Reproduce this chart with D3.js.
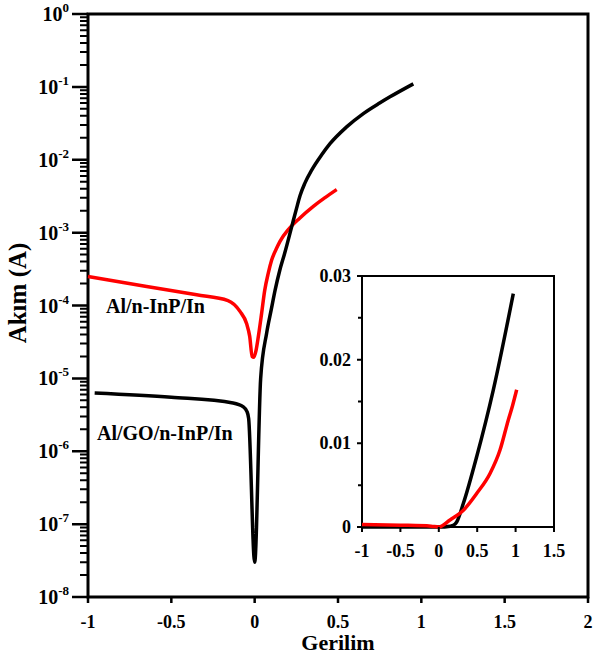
<!DOCTYPE html>
<html><head><meta charset="utf-8">
<script src="https://cdnjs.cloudflare.com/ajax/libs/d3/7.8.5/d3.min.js"></script>
<style>
html,body{margin:0;padding:0;background:#fff;}
text{font-family:"Liberation Serif","Times New Roman",serif;font-weight:bold;fill:#000;}
</style></head>
<body><svg id="c" width="593" height="658"></svg>
<script>
// ---- data ----
const blackVoltage = [-0.96, -0.5, -0.13, -0.07, -0.046, -0.036, 0.0, 0.036, 0.072, 0.1, 0.122, 0.15, 0.18, 0.222, 0.25, 0.272, 0.30, 0.342, 0.40, 0.452, 0.55, 0.652, 0.75, 0.812, 0.952];
const blackCurrent = [6.3e-6, 5.5e-6, 4.6e-6, 4.1e-6, 3.5e-6, 2.8e-6, 3.0e-8, 1.0e-5, 4.2e-5, 8.9e-5, 1.6e-4, 3.0e-4, 5.2e-4, 1.2e-3, 2.1e-3, 3.2e-3, 4.7e-3, 7.2e-3, 1.15e-2, 1.66e-2, 2.8e-2, 4.3e-2, 6.0e-2, 7.3e-2, 0.11];
const redVoltage = [-1.0, -0.648, -0.348, -0.16, -0.088, -0.048, -0.03, -0.015, -0.005, 0.008, 0.02, 0.042, 0.06, 0.082, 0.102, 0.13, 0.152, 0.202, 0.27, 0.352, 0.42, 0.492];
const redCurrent = [2.5e-4, 1.82e-4, 1.4e-4, 1.17e-4, 8.3e-5, 5.6e-5, 3.8e-5, 2.0e-5, 1.95e-5, 2.4e-5, 3.5e-5, 7.9e-5, 1.6e-4, 2.8e-4, 4.2e-4, 6.0e-4, 7.6e-4, 1.1e-3, 1.58e-3, 2.3e-3, 3.0e-3, 3.9e-3];
const insetBlackVoltage = [-1, 0, 0.15, 0.19, 0.233, 0.319, 0.493, 0.71, 0.97];
const insetBlackCurrent = [0.0000065, 0, 0.0001, 0.0002, 0.0006, 0.0028, 0.0084, 0.0164, 0.0279];
const insetRedVoltage = [-1, -0.5, -0.1, 0, 0.146, 0.32, 0.493, 0.667, 0.797, 0.905, 0.96, 1.014];
const insetRedCurrent = [0.0003, 0.00022, 0.0001, 0, 0.00084, 0.002, 0.004, 0.0064, 0.0092, 0.0128, 0.0145, 0.0164];
const xTicks = [-1, -0.5, 0, 0.5, 1, 1.5, 2];
const yExponents = [0, -1, -2, -3, -4, -5, -6, -7, -8];
const insetXTicks = [-1, -0.5, 0, 0.5, 1, 1.5];
const insetYTicks = [0, 0.01, 0.02, 0.03];
const insetYMinor = [0.005, 0.015, 0.025];
const labels = ["Al/n-InP/In", "Al/GO/n-InP/In"];
const xTitle = "Gerilim", yTitle = "Akım (A)";

// ---- layout ----
const svg = d3.select("#c");
const L = 88, R = 588, T = 14, B = 597;
const x = d3.scaleLinear().domain([-1, 2]).range([L, R]);
const y = d3.scaleLog().domain([1e-8, 1]).range([B, T]);
const iL = 362, iR = 554, iT = 276, iB = 527;
const ix = d3.scaleLinear().domain([-1, 1.5]).range([iL, iR]);
const iy = d3.scaleLinear().domain([0, 0.03]).range([iB, iT]);

const minor = [];
for (let e = -8; e < 0; e++) for (let m = 2; m <= 9; m++) minor.push(m * Math.pow(10, e));
const majors = yExponents.map(e => Math.pow(10, e));

// frames
svg.append("path").attr("d", `M${L},${T}H${R}V${B}H${L}Z`).attr("fill", "none").attr("stroke", "#000").attr("stroke-width", 3);
svg.append("path").attr("d", `M${iL},${iT}H${iR}V${iB}H${iL}Z`).attr("fill", "none").attr("stroke", "#000").attr("stroke-width", 2);

// y tick labels (main, log)
const yl = svg.append("g").selectAll("text").data(yExponents).join("text")
  .attr("x", 69).attr("y", d => y(Math.pow(10, d)) + 7).attr("text-anchor", "end")
  .style("font-size", "20px");
yl.append("tspan").text("10");
yl.append("tspan").attr("dy", -9).style("font-size", "13px").text(d => String(d));

// x tick labels (main)
svg.append("g").selectAll("text").data(xTicks).join("text")
  .attr("x", d => x(d)).attr("y", B + 31).attr("text-anchor", "middle")
  .style("font-size", "18px").text(d => String(d));

// inset tick labels
svg.append("g").selectAll("text").data(insetYTicks).join("text")
  .attr("x", iL - 11).attr("y", d => iy(d) + 6).attr("text-anchor", "end")
  .style("font-size", "18px").text(d => String(d));
svg.append("g").selectAll("text").data(insetXTicks).join("text")
  .attr("x", d => ix(d)).attr("y", iB + 30).attr("text-anchor", "middle")
  .style("font-size", "18px").text(d => String(d));

// curves
const line = d3.line().x(d => x(d[0])).y(d => y(d[1])).curve(d3.curveMonotoneX);
svg.append("path").datum(redVoltage.map((v, i) => [v, redCurrent[i]])).attr("d", line)
  .attr("fill", "none").attr("stroke", "#ff0000").attr("stroke-width", 3.5).attr("stroke-linejoin", "round");
svg.append("path").datum(blackVoltage.map((v, i) => [v, blackCurrent[i]])).attr("d", line)
  .attr("fill", "none").attr("stroke", "#000").attr("stroke-width", 3.5).attr("stroke-linejoin", "round");
const iline = d3.line().x(d => ix(d[0])).y(d => iy(d[1])).curve(d3.curveMonotoneX);
svg.append("path").datum(insetBlackVoltage.map((v, i) => [v, insetBlackCurrent[i]])).attr("d", iline)
  .attr("fill", "none").attr("stroke", "#000").attr("stroke-width", 3.5);
svg.append("path").datum(insetRedVoltage.map((v, i) => [v, insetRedCurrent[i]])).attr("d", iline)
  .attr("fill", "none").attr("stroke", "#ff0000").attr("stroke-width", 3.5);

// curve labels
svg.append("text").attr("x", 106).attr("y", 313).style("font-size", "20px").text(labels[0]);
svg.append("text").attr("x", 97).attr("y", 440).style("font-size", "20px").text(labels[1]);

// titles
svg.append("text").attr("x", (L + R) / 2).attr("y", 650).attr("text-anchor", "middle").style("font-size", "22px").text(xTitle);
svg.append("text").attr("transform", "translate(26,293) rotate(-90)").attr("text-anchor", "middle").style("font-size", "25px").text(yTitle);

// tick marks, positioned from the scales
const tickD = minor.map(v => `M${L - 8},${y(v)}H${L}`).join("");
const majD = majors.map(v => `M${L - 16},${y(v)}H${L}`).join("")
  + xTicks.map(v => `M${x(v)},${B}V${B + 6}`).join("");
const insetTickD = insetYTicks.map(v => `M${iL - 5},${iy(v)}H${iL}`).join("")
  + insetYMinor.map(v => `M${iL - 4},${iy(v)}H${iL}`).join("")
  + insetXTicks.map(v => `M${ix(v)},${iB}V${iB + 5}`).join("");
svg.append("path").attr("d", tickD).attr("fill", "none").attr("stroke", "#000").attr("stroke-width", 2);
svg.append("path").attr("d", majD).attr("fill", "none").attr("stroke", "#000").attr("stroke-width", 2.5);
svg.append("path").attr("d", insetTickD).attr("fill", "none").attr("stroke", "#000").attr("stroke-width", 2);
</script></body></html>
